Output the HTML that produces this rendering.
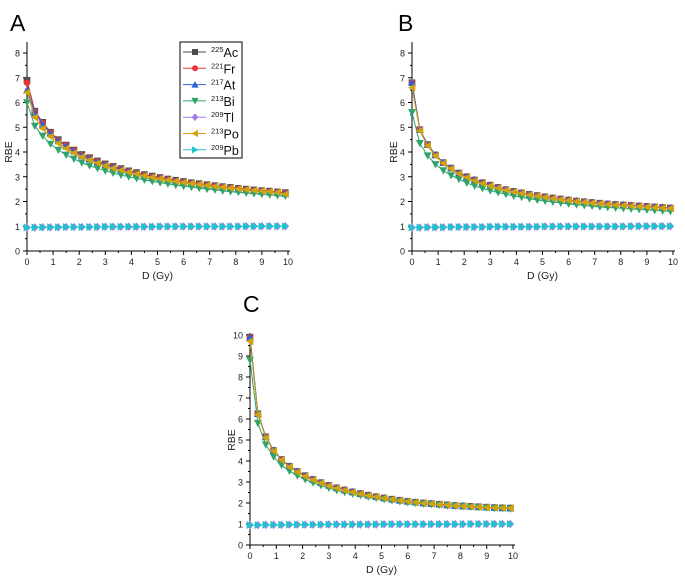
<!DOCTYPE html>
<html><head><meta charset="utf-8">
<style>
html,body{margin:0;padding:0;background:#fff;}
svg{display:block;font-family:"Liberation Sans",Arial,sans-serif;}
</style></head>
<body>
<svg id="chart" width="685" height="579" viewBox="0 0 685 579"></svg>
<script>
// ---- data ----
const doses = [0,0.3,0.6,0.9,1.2,1.5,1.8,2.1,2.4,2.7,3.0,3.3,3.6,3.9,4.2,4.5,4.8,5.1,5.4,5.7,6.0,6.3,6.6,6.9,7.2,7.5,7.8,8.1,8.4,8.7,9.0,9.3,9.6,9.9];
const isotopes = ["225Ac","221Fr","217At","213Bi","209Tl","213Po","209Pb"];
const xTicks = [0,1,2,3,4,5,6,7,8,9,10];
const yTicksAB = [0,1,2,3,4,5,6,7,8];
const yTicksC = [0,1,2,3,4,5,6,7,8,9,10];
const flatSeries = [0.95,0.95,0.96,0.96,0.96,0.97,0.97,0.97,0.97,0.97,0.98,0.98,0.98,0.98,0.98,0.98,0.98,0.99,0.99,0.99,0.99,0.99,0.99,0.99,0.99,0.99,0.99,0.99,1.0,1.0,1.0,1.0,1.0,1.0];
// Panel A
const aAc = [6.9,5.65,5.2,4.8,4.5,4.28,4.08,3.9,3.77,3.64,3.52,3.42,3.33,3.24,3.17,3.09,3.03,2.97,2.91,2.86,2.81,2.76,2.72,2.68,2.64,2.6,2.57,2.53,2.5,2.47,2.44,2.42,2.39,2.36];
const aFr = [6.8,5.62,5.17,4.78,4.48,4.26,4.06,3.88,3.75,3.62,3.5,3.4,3.31,3.22,3.15,3.07,3.01,2.95,2.89,2.84,2.79,2.74,2.7,2.66,2.62,2.58,2.55,2.51,2.48,2.45,2.42,2.4,2.37,2.34];
const aAt = [6.5,5.58,5.12,4.75,4.45,4.23,4.03,3.86,3.73,3.6,3.48,3.38,3.29,3.2,3.13,3.05,2.99,2.93,2.87,2.82,2.77,2.72,2.68,2.64,2.6,2.56,2.53,2.49,2.46,2.43,2.4,2.38,2.35,2.32];
const aBi = [6.0,5.05,4.65,4.32,4.08,3.88,3.72,3.57,3.45,3.34,3.24,3.15,3.07,3.0,2.93,2.87,2.81,2.76,2.71,2.66,2.62,2.58,2.54,2.5,2.47,2.43,2.4,2.37,2.34,2.32,2.29,2.27,2.24,2.22];
const aPo = [6.4,5.4,4.95,4.62,4.35,4.14,3.96,3.8,3.67,3.55,3.44,3.34,3.26,3.18,3.11,3.04,2.98,2.92,2.87,2.82,2.77,2.73,2.69,2.65,2.61,2.58,2.54,2.51,2.48,2.45,2.42,2.4,2.37,2.3];
// Panel B
const bAc = [6.8,4.9,4.3,3.88,3.57,3.35,3.15,3.0,2.87,2.76,2.66,2.57,2.48,2.41,2.35,2.29,2.24,2.19,2.14,2.1,2.06,2.02,1.99,1.96,1.93,1.9,1.88,1.86,1.84,1.82,1.8,1.78,1.76,1.74];
const bBi = [5.6,4.35,3.85,3.5,3.25,3.05,2.9,2.75,2.63,2.53,2.44,2.36,2.29,2.22,2.17,2.11,2.06,2.02,1.98,1.94,1.9,1.87,1.84,1.81,1.78,1.76,1.74,1.72,1.7,1.68,1.66,1.64,1.62,1.6];
const bPo = [6.6,4.85,4.25,3.84,3.54,3.32,3.12,2.97,2.84,2.73,2.63,2.54,2.46,2.39,2.33,2.27,2.22,2.17,2.12,2.08,2.04,2.0,1.97,1.94,1.91,1.88,1.86,1.84,1.82,1.8,1.78,1.76,1.74,1.72];
// Panel C
const cAc = [9.9,6.25,5.15,4.5,4.07,3.75,3.5,3.3,3.12,2.97,2.84,2.72,2.62,2.53,2.45,2.37,2.3,2.24,2.18,2.13,2.08,2.04,2.0,1.97,1.94,1.91,1.88,1.86,1.84,1.82,1.8,1.78,1.77,1.76];
const cBi = [8.8,5.8,4.78,4.2,3.8,3.52,3.3,3.12,2.96,2.83,2.71,2.6,2.51,2.43,2.36,2.29,2.23,2.17,2.12,2.07,2.03,1.99,1.96,1.93,1.9,1.87,1.85,1.83,1.81,1.79,1.77,1.75,1.74,1.72];
const cPo = [9.7,6.2,5.1,4.47,4.04,3.72,3.47,3.27,3.1,2.95,2.82,2.7,2.6,2.51,2.43,2.35,2.29,2.23,2.17,2.12,2.07,2.03,1.99,1.96,1.93,1.9,1.87,1.85,1.83,1.81,1.79,1.77,1.76,1.75];

const colors = {"225Ac":"#4a4a4a","221Fr":"#e8363a","217At":"#2a64d6","213Bi":"#2ea36a","209Tl":"#a77ae6","213Po":"#d4a20c","209Pb":"#1fc3cc"};
const shapes = {"225Ac":"square","221Fr":"circle","217At":"up","213Bi":"down","209Tl":"diamond","213Po":"left","209Pb":"right"};
const NS = "http://www.w3.org/2000/svg";
const svg = document.getElementById("chart");
function mk(tag, attrs, parent){const e=document.createElementNS(NS,tag);for(const k in attrs)e.setAttribute(k,attrs[k]);(parent||svg).appendChild(e);return e;}

function marker(g, shape, cx, cy, r, color){
  let e;
  if(shape==="square") e=mk("rect",{x:cx-r,y:cy-r,width:2*r,height:2*r,fill:color},g);
  else if(shape==="circle") e=mk("circle",{cx:cx,cy:cy,r:r,fill:color},g);
  else {
    let p;
    if(shape==="up") p=[[cx,cy-r*1.2],[cx-r*1.2,cy+r],[cx+r*1.2,cy+r]];
    else if(shape==="down") p=[[cx,cy+r*1.2],[cx-r*1.2,cy-r],[cx+r*1.2,cy-r]];
    else if(shape==="left") p=[[cx-r*1.2,cy],[cx+r,cy-r*1.2],[cx+r,cy+r*1.2]];
    else if(shape==="right") p=[[cx+r*1.2,cy],[cx-r,cy-r*1.2],[cx-r,cy+r*1.2]];
    else p=[[cx,cy-r*1.3],[cx+r*1.1,cy],[cx,cy+r*1.3],[cx-r*1.1,cy]];
    e=mk("polygon",{points:p.map(q=>q.join(",")).join(" "),fill:color},g);
  }
  return e;
}

function panel(cfg){
  const g=mk("g",{});
  
  
  const xs=v=>cfg.x0+(v-0)/10*(cfg.x1-cfg.x0);
  const ys=v=>cfg.y0-(v/cfg.ymax)*(cfg.y0-cfg.yTop);
  const t=mk("text",{x:cfg.lx,y:cfg.ly,"font-size":23,fill:"#000"},g);t.textContent=cfg.letter;
  
  
  const ax=mk("g",{stroke:"#000","stroke-width":1},g);
  
  
  mk("line",{x1:cfg.x0,y1:cfg.axTop,x2:cfg.x0,y2:cfg.y0},ax);
  mk("line",{x1:cfg.x0,y1:cfg.y0,x2:cfg.x1+2,y2:cfg.y0},ax);
  cfg.yticks.forEach((v,i)=>{
    mk("line",{x1:cfg.x0-4,y1:ys(v),x2:cfg.x0,y2:ys(v)},ax);
    if(i<cfg.yticks.length-1||cfg.ymax>v) mk("line",{x1:cfg.x0-2,y1:ys(v+0.5),x2:cfg.x0,y2:ys(v+0.5)},ax);
    const l=mk("text",{x:cfg.x0-7,y:ys(v)+3.5,"font-size":9,"text-anchor":"end",fill:"#222",stroke:"none"},g);l.textContent=v;
    
    
  });
  xTicks.forEach((v,i)=>{
    mk("line",{x1:xs(v),y1:cfg.y0,x2:xs(v),y2:cfg.y0+4},ax);
    if(i<xTicks.length-1) mk("line",{x1:xs(v+0.5),y1:cfg.y0,x2:xs(v+0.5),y2:cfg.y0+2},ax);
    const l=mk("text",{x:xs(v),y:cfg.y0+14,"font-size":9,"text-anchor":"middle",fill:"#222",stroke:"none"},g);l.textContent=v;
    
    
  });
  const xl=mk("text",{x:(cfg.x0+cfg.x1)/2,y:cfg.y0+28,"font-size":10.5,"text-anchor":"middle",fill:"#222"},g);xl.textContent="D (Gy)";
  
  
  const yl=mk("text",{x:0,y:0,"font-size":10.5,"text-anchor":"middle",fill:"#222",transform:`translate(${cfg.x0-15},${cfg.ylY}) rotate(-90)`},g);yl.textContent="RBE";
  
  
  isotopes.forEach(iso=>{
    const vals=cfg.series[iso];
    const sg=mk("g",{},g);
    
    
    mk("polyline",{points:vals.map((v,i)=>xs(doses[i])+","+ys(v)).join(" "),fill:"none",stroke:colors[iso],"stroke-width":1},sg);
    vals.forEach((v,i)=>{
      const m=marker(sg,shapes[iso],xs(doses[i]),ys(v),3.3,colors[iso]);
      
      
    });
  });
  return {g,xs,ys};
}

panel({name:"panel-a",letter:"A",lx:10,ly:31,x0:27,x1:288,y0:251,yTop:53,ymax:8,axTop:42,yticks:yTicksAB,ylY:152,
  series:{"225Ac":aAc,"221Fr":aFr,"217At":aAt,"213Bi":aBi,"209Tl":flatSeries,"213Po":aPo,"209Pb":flatSeries}});
panel({name:"panel-b",letter:"B",lx:398,ly:31,x0:412,x1:673,y0:251,yTop:53,ymax:8,axTop:42,yticks:yTicksAB,ylY:152,
  series:{"225Ac":bAc,"221Fr":bAc,"217At":bAc,"213Bi":bBi,"209Tl":flatSeries,"213Po":bPo,"209Pb":flatSeries}});
panel({name:"panel-c",letter:"C",lx:243,ly:312,x0:250,x1:513,y0:545,yTop:335,ymax:10,axTop:333,yticks:yTicksC,ylY:440,
  series:{"225Ac":cAc,"221Fr":cAc,"217At":cAc,"213Bi":cBi,"209Tl":flatSeries,"213Po":cPo,"209Pb":flatSeries}});

const lg=mk("g",{});


mk("rect",{x:180,y:42,width:62,height:116,fill:"#fff",stroke:"#000","stroke-width":1},lg);
isotopes.forEach((iso,i)=>{
  const y=52+i*16.3;
  const e=mk("g",{},lg);
  
  
  mk("line",{x1:183,y1:y,x2:206,y2:y,stroke:colors[iso],"stroke-width":1},e);
  marker(e,shapes[iso],195,y,3,colors[iso]);
  const t=mk("text",{x:211,y:y+5,"font-size":12.5,fill:"#111"},e);
  const sup=mk("tspan",{"font-size":7.5,dy:-5},t);sup.textContent=iso.slice(0,3);
  const nm=mk("tspan",{dy:5},t);nm.textContent=iso.slice(3);
});
</script>
</body></html>
